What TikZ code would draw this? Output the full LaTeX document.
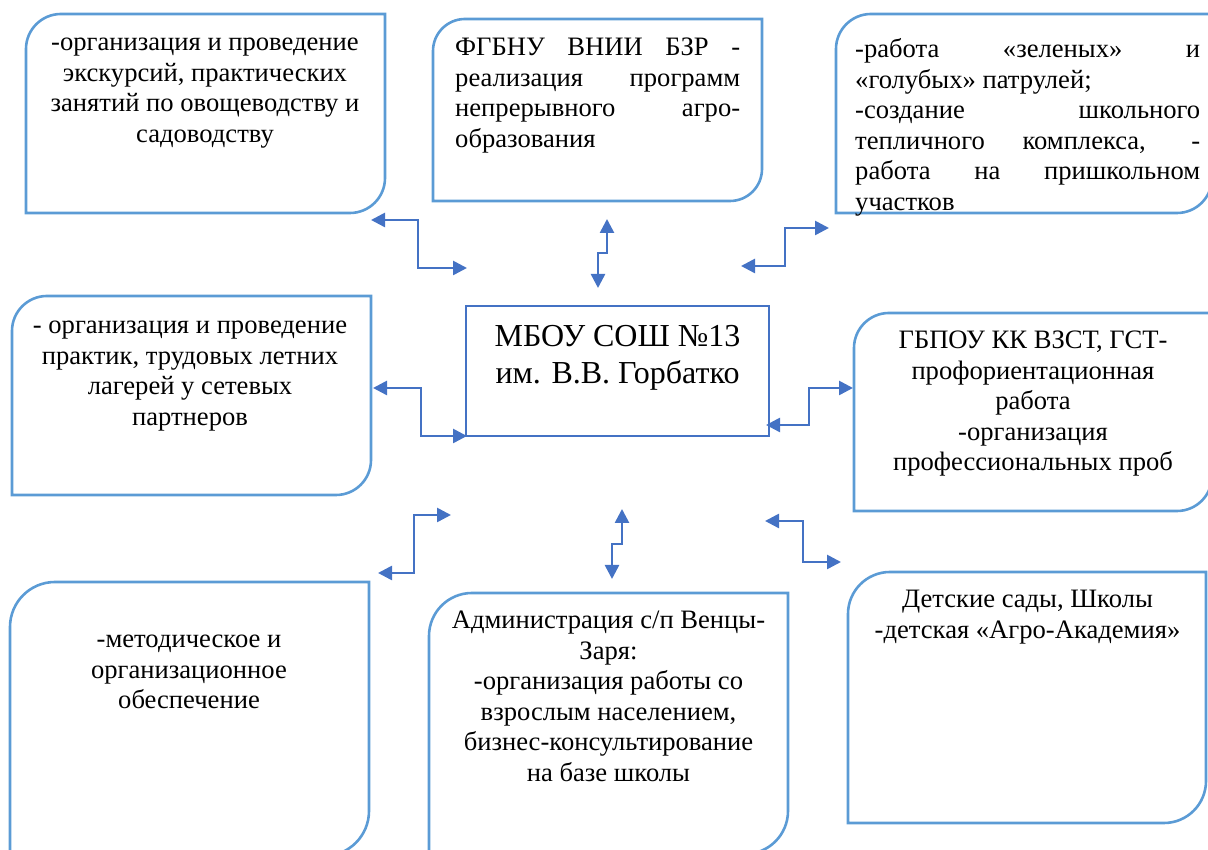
\documentclass[tikz,border=0pt]{standalone}
\usepackage{fontspec}
\setmainfont{Liberation Serif}
\usetikzlibrary{arrows.meta}
\definecolor{framecol}{HTML}{5B9BD5}
\definecolor{linkcol}{HTML}{4472C4}

\begin{document}
\begin{tikzpicture}[x=1pt,y=1pt,
  frame/.style={draw=framecol,line width=2.6pt},
  link/.style={draw=linkcol,line width=2.6pt,{Triangle[length=14pt,width=14pt]}-{Triangle[length=14pt,width=14pt]}},
  txt/.style={inner sep=0pt,font=\fontsize{26.6}{30.5}\selectfont,align=center}]
\useasboundingbox (0,0) rectangle (1208,850);
% frames
\draw[frame] (26,637) -- (26,801) arc[start angle=180,end angle=90,radius=35] -- (385,836) -- (385,672) arc[start angle=0,end angle=-90,radius=35] -- cycle;
\draw[frame] (433,649) -- (433,799) arc[start angle=180,end angle=90,radius=32] -- (762,831) -- (762,681) arc[start angle=0,end angle=-90,radius=32] -- cycle;
\draw[frame] (836,637) -- (836,801) arc[start angle=180,end angle=90,radius=35] -- (1212,836) -- (1212,672) arc[start angle=0,end angle=-90,radius=35] -- cycle;
\draw[frame] (12,355) -- (12,519) arc[start angle=180,end angle=90,radius=35] -- (371,554) -- (371,390) arc[start angle=0,end angle=-90,radius=35] -- cycle;
\draw[frame] (854,339) -- (854,502) arc[start angle=180,end angle=90,radius=35] -- (1212,537) -- (1212,374) arc[start angle=0,end angle=-90,radius=35] -- cycle;
\draw[frame] (10,-6) -- (10,223) arc[start angle=180,end angle=90,radius=45] -- (369,268) -- (369,39) arc[start angle=0,end angle=-90,radius=45] -- cycle;
\draw[frame] (429,-4) -- (429,214) arc[start angle=180,end angle=90,radius=43] -- (788,257) -- (788,39) arc[start angle=0,end angle=-90,radius=43] -- cycle;
\draw[frame] (848,27) -- (848,236) arc[start angle=180,end angle=90,radius=42] -- (1206,278) -- (1206,69) arc[start angle=0,end angle=-90,radius=42] -- cycle;
\draw[draw=linkcol,line width=2.8pt] (466,414) rectangle (769,544);
% texts
\node[txt,anchor=north] (tl) at (205,821) {\strut-организация и проведение\\экскурсий, практических\\занятий по овощеводству и\\садоводству};
\node[txt,anchor=north west,align=left] (tm) at (455,816) {\strut\makebox[285pt][s]{ФГБНУ ВНИИ БЗР -}\\\makebox[285pt][s]{реализация программ}\\\makebox[285pt][s]{непрерывного агро-}\\образования};
\node[txt,anchor=north west,align=left] (tr) at (855,814) {\strut\makebox[345pt][s]{-работа «зеленых» и}\\«голубых» патрулей;\\\makebox[345pt][s]{-создание школьного}\\\makebox[345pt][s]{тепличного комплекса, -}\\\makebox[345pt][s]{работа на пришкольном}\\участков};
\node[txt,anchor=north] (ml) at (190,538) {\strut- организация и проведение\\практик, трудовых летних\\лагерей у сетевых\\партнеров};
\node[txt,anchor=north,font=\fontsize{32}{37}\selectfont] (school) at (617.5,530) {\strut МБОУ СОШ №13\\им. В.В. Горбатко};
\node[txt,anchor=north] (mr) at (1033,523) {\strut ГБПОУ КК ВЗСТ, ГСТ-\\профориентационная\\работа\\-организация\\профессиональных проб};
\node[txt,anchor=north] (bl) at (189,224) {\strut-методическое и\\организационное\\обеспечение};
\node[txt,anchor=north] (bm) at (608.5,243) {\strut Администрация с/п Венцы-\\Заря:\\-организация работы со\\взрослым населением,\\бизнес-консультирование\\на базе школы};
\node[txt,anchor=north] (br) at (1027.5,264) {\strut Детские сады, Школы\\-детская «Агро-Академия»};
% arrow ends
\coordinate (p1a) at (371,630); \coordinate (p1b) at (467,582);
\coordinate (p2a) at (607,631); \coordinate (p2b) at (598,562);
\coordinate (p3a) at (741,584); \coordinate (p3b) at (829,622);
\coordinate (p4a) at (373,462); \coordinate (p4b) at (467,414);
\coordinate (p5a) at (766,425); \coordinate (p5b) at (853,462);
\coordinate (p6a) at (451,335); \coordinate (p6b) at (378,277);
\coordinate (p7a) at (622,341); \coordinate (p7b) at (612,271);
\coordinate (p8a) at (765,329); \coordinate (p8b) at (841,288);
% arrows
\draw[link] (p1a) -- ++(47,0) |- (p1b);
\draw[link] (p2a) -- ++(0,-34) -| (p2b);
\draw[link] (p3a) -- ++(44,0) |- (p3b);
\draw[link] (p4a) -- ++(48,0) |- (p4b);
\draw[link] (p5a) -- ++(43,0) |- (p5b);
\draw[link] (p6a) -- ++(-37,0) |- (p6b);
\draw[link] (p7a) -- ++(0,-35) -| (p7b);
\draw[link] (p8a) -- ++(38,0) |- (p8b);
\end{tikzpicture}
\end{document}
